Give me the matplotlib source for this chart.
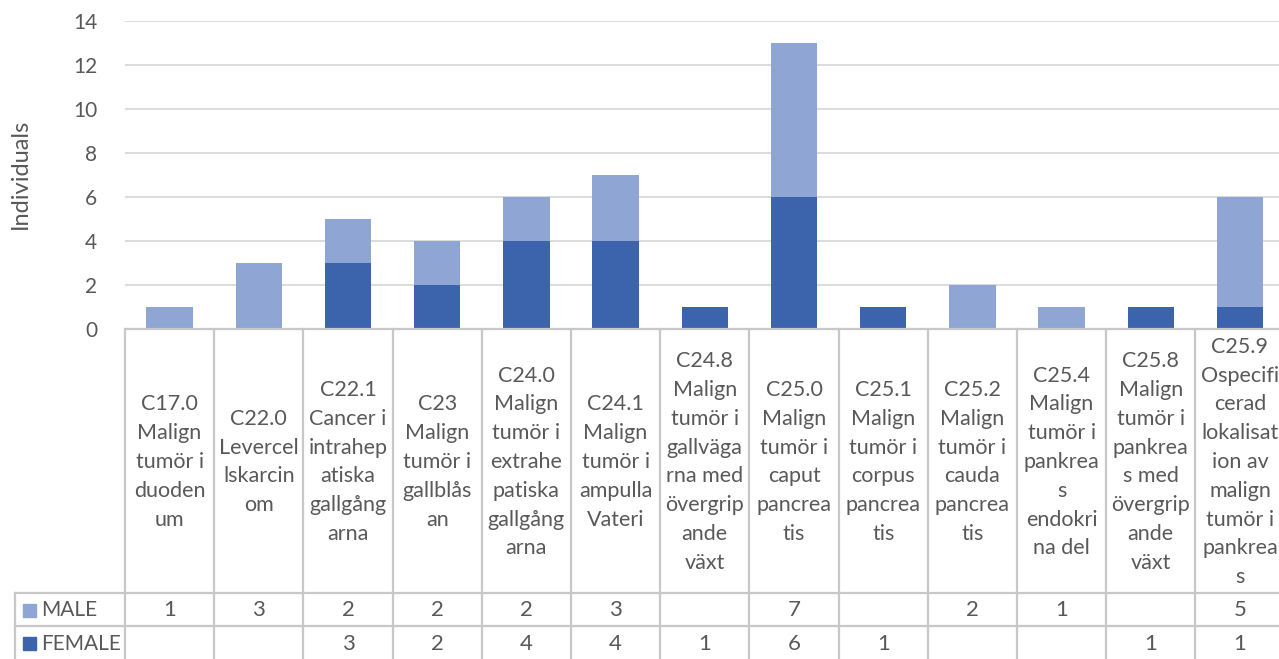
import matplotlib
matplotlib.use("Agg")
import matplotlib.pyplot as plt
from matplotlib.transforms import blended_transform_factory
from matplotlib.patches import Rectangle
from matplotlib.lines import Line2D
import numpy as np

categories = [
    "C17.0\nMalign\ntumör i\nduoden\num",
    "C22.0\nLevercel\nlskarcin\nom",
    "C22.1\nCancer i\nintrahep\natiska\ngallgång\narna",
    "C23\nMalign\ntumör i\ngallblås\nan",
    "C24.0\nMalign\ntumör i\nextrahe\npatiska\ngallgång\narna",
    "C24.1\nMalign\ntumör i\nampulla\nVateri",
    "C24.8\nMalign\ntumör i\ngallväga\nrna med\növergrip\nande\nväxt",
    "C25.0\nMalign\ntumör i\ncaput\npancrea\ntis",
    "C25.1\nMalign\ntumör i\ncorpus\npancrea\ntis",
    "C25.2\nMalign\ntumör i\ncauda\npancrea\ntis",
    "C25.4\nMalign\ntumör i\npankrea\ns\nendokri\nna del",
    "C25.8\nMalign\ntumör i\npankrea\ns med\növergrip\nande\nväxt",
    "C25.9\nOspecifi\ncerad\nlokalisat\nion av\nmalign\ntumör i\npankrea\ns",
]
male = [1, 3, 2, 2, 2, 3, None, 7, None, 2, 1, None, 5]
female = [None, None, 3, 2, 4, 4, 1, 6, 1, None, None, 1, 1]
series_names = ["MALE", "FEMALE"]
y_ticks = [0, 2, 4, 6, 8, 10, 12, 14]
y_label = "Individuals"

C_MALE = "#8FA5D4"
C_FEMALE = "#3B64AD"
C_TEXT = "#595959"
C_GRID = "#D9D9D9"
C_CELL = "#C8C8C8"

plt.rcParams['font.family'] = ['Lato', 'DejaVu Sans']

W, H = 1279, 659
fig = plt.figure(figsize=(W / 100, H / 100), dpi=100)

def fx(p):
    return p / W

def fy(p):
    return 1 - p / H

n = len(categories)
left_px, right_px = 125, 125 + 13 * 89.2
top_px, bottom_px = 21, 329
ax = fig.add_axes([fx(left_px), fy(bottom_px), (right_px - left_px) / W, (bottom_px - top_px) / H])
ax.set_xlim(-0.5, n - 0.5)
ax.set_ylim(0, 14)

x = np.arange(n)
m = np.array([v if v is not None else 0 for v in male], dtype=float)
f = np.array([v if v is not None else 0 for v in female], dtype=float)
ax.bar(x, f, width=0.52, color=C_FEMALE, zorder=3)
ax.bar(x, m, bottom=f, width=0.52, color=C_MALE, zorder=3)

ax.set_yticks(y_ticks)
ax.set_yticklabels([str(t) for t in y_ticks], fontsize=15, color=C_TEXT)
ax.tick_params(axis='y', length=0, pad=20)
ax.set_xticks([])
ax.grid(axis='y', color=C_GRID, linewidth=1.3, zorder=0)
for s in ax.spines.values():
    s.set_visible(False)
fig.text(fx(20), fy(174), y_label, rotation=90, ha='center', va='center',
         fontsize=17, color=C_TEXT)

# Data table below the axis
tr = blended_transform_factory(ax.transData, fig.transFigure)
row_top = 329
row_m = 593
row_f = 626
row_end = 665
legend_left = 15

def hline(y, x0_fig, x1_fig):
    fig.add_artist(Line2D([x0_fig, x1_fig], [fy(y), fy(y)], color=C_CELL, linewidth=1.6,
                          transform=fig.transFigure))

hline(row_top, fx(left_px), fx(W))
hline(row_m, fx(legend_left), fx(W))
hline(row_f, fx(legend_left), fx(W))

for b in np.arange(n + 1) - 0.5:
    fig.add_artist(Line2D([b, b], [fy(row_top), fy(row_end)], color=C_CELL, linewidth=1.6,
                          transform=tr, clip_on=False))
fig.add_artist(Line2D([fx(legend_left), fx(legend_left)], [fy(row_m), fy(row_end)],
                      color=C_CELL, linewidth=1.6, transform=fig.transFigure))

for i, lab in enumerate(categories):
    fig.text(i, fy((row_top + row_m) / 2 + 1), lab, transform=tr, ha='center', va='center',
             fontsize=15.5, color=C_TEXT, linespacing=1.55, multialignment='center')

for vals, ytop, ybot, name, col in [(male, row_m, row_f, series_names[0], C_MALE),
                                     (female, row_f, 659, series_names[1], C_FEMALE)]:
    yc = (ytop + ybot) / 2 + 1
    for i, v in enumerate(vals):
        if v is not None:
            fig.text(i, fy(yc), str(v), transform=tr, ha='center', va='center',
                     fontsize=16, color=C_TEXT)
    fig.add_artist(Rectangle((fx(23), fy(yc) - 6.5 / H), 13 / W, 13 / H, color=col,
                             transform=fig.transFigure))
    fig.text(fx(41), fy(yc), name, ha='left', va='center', fontsize=15, color=C_TEXT)

fig.savefig("out.png", dpi=100)
